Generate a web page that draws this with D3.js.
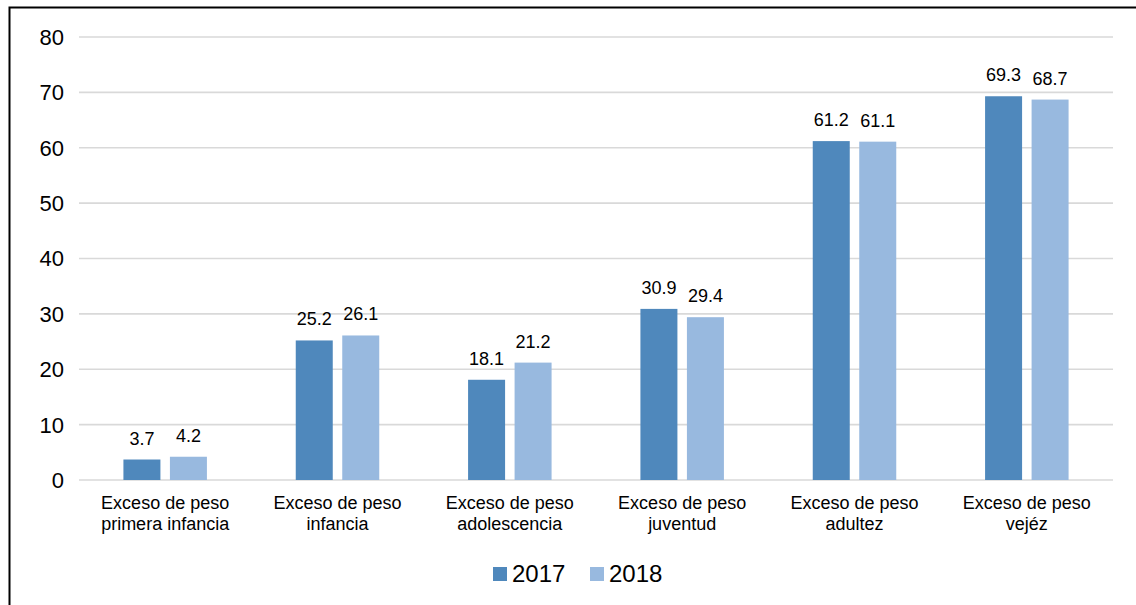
<!DOCTYPE html>
<html><head><meta charset="utf-8">
<script src="https://cdn.jsdelivr.net/npm/d3@7"></script>
<style>body{margin:0;background:#fff}svg{display:block}</style>
</head><body>
<script>
const categories = [
  ["Exceso de peso","primera infancia"],
  ["Exceso de peso","infancia"],
  ["Exceso de peso","adolescencia"],
  ["Exceso de peso","juventud"],
  ["Exceso de peso","adultez"],
  ["Exceso de peso","vejéz"]
];
const seriesNames = ["2017","2018"];
const values2017 = [3.7, 25.2, 18.1, 30.9, 61.2, 69.3];
const values2018 = [4.2, 26.1, 21.2, 29.4, 61.1, 68.7];
const yTicks = [0,10,20,30,40,50,60,70,80];
const colors = ["#4f88bc","#98b9df"];

const W = 1136, H = 605;
const svg = d3.select("body").append("svg").attr("width", W).attr("height", H)
  .style("font-family", "'Liberation Sans', Arial, sans-serif");

// border
svg.append("path").attr("d", `M9.5,${H+2} L9.5,7.5 L${W+2},7.5`)
  .attr("fill","none").attr("stroke","#000").attr("stroke-width",2);

const x0 = d3.scaleBand().domain(d3.range(categories.length)).range([79, 1113]).paddingInner(0).paddingOuter(0);
const y = d3.scaleLinear().domain([0, 80]).range([480, 37]);
const barW = 37, gap = 9.5;
const x1 = d3.scaleOrdinal().domain([0,1]).range([-(gap/2) - barW, gap/2]);

// gridlines
svg.append("g").selectAll("line").data(yTicks).join("line")
  .attr("x1", 79).attr("x2", 1113)
  .attr("y1", d => y(d)).attr("y2", d => y(d))
  .attr("stroke", "#d9d9d9").attr("stroke-width", 1.6);

// y tick labels
svg.append("g").selectAll("text").data(yTicks).join("text")
  .attr("x", 64).attr("y", d => y(d)).attr("dy", "0.36em")
  .attr("text-anchor", "end").attr("font-size", 22).attr("fill", "#000")
  .text(d => d);

const series = [values2017, values2018];
series.forEach((vals, si) => {
  const g = svg.append("g");
  g.selectAll("rect").data(vals).join("rect")
    .attr("x", (d, i) => x0(i) + x0.bandwidth()/2 + x1(si))
    .attr("width", barW)
    .attr("y", d => y(d))
    .attr("height", d => y(0) - y(d))
    .attr("fill", colors[si]);
  g.selectAll("text").data(vals).join("text")
    .attr("x", (d, i) => x0(i) + x0.bandwidth()/2 + x1(si) + barW/2)
    .attr("y", d => y(d) - 15)
    .attr("text-anchor", "middle").attr("font-size", 18).attr("fill", "#000")
    .text(d => d.toFixed(1));
});

// category labels
const cg = svg.append("g");
categories.forEach((lines, i) => {
  const t = cg.append("text").attr("text-anchor", "middle").attr("font-size", 18).attr("fill", "#000");
  lines.forEach((ln, j) => {
    t.append("tspan").attr("x", x0(i) + x0.bandwidth()/2).attr("y", 509 + j*21).text(ln);
  });
});

// legend
const legX = [493, 590];
seriesNames.forEach((name, si) => {
  svg.append("rect").attr("x", legX[si]).attr("y", 567).attr("width", 14).attr("height", 14).attr("fill", colors[si]);
  svg.append("text").attr("x", legX[si] + 19).attr("y", 582).attr("font-size", 24).attr("fill", "#000").text(name);
});
</script>
</body></html>
